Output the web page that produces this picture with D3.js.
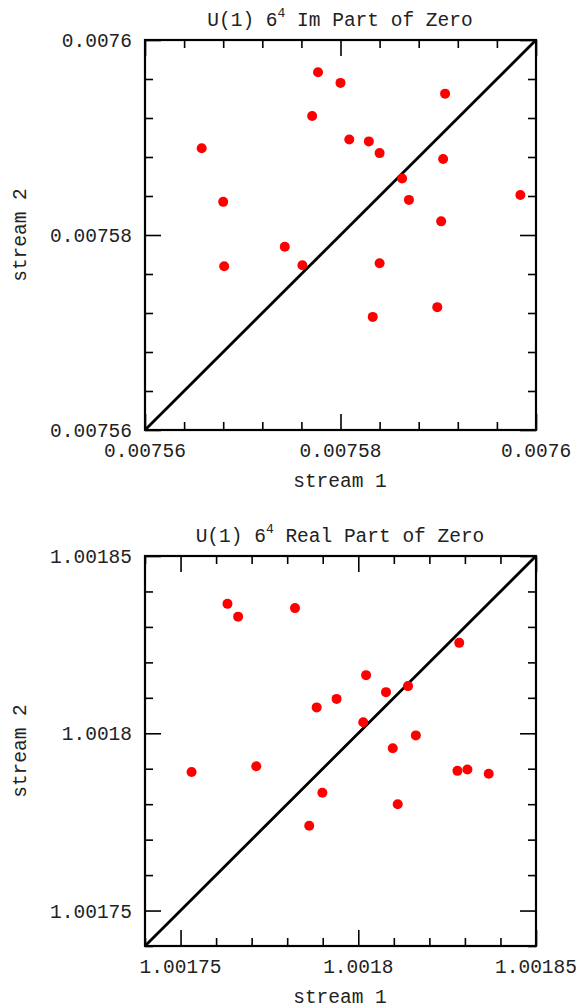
<!DOCTYPE html>
<html>
<head>
<meta charset="utf-8">
<script src="https://cdn.jsdelivr.net/npm/d3@7"></script>
<style>
  html, body { margin: 0; padding: 0; background: #fff; }
  svg { display: block; }
  text { font-family: "Liberation Mono", "DejaVu Sans Mono", monospace; fill: #222; }
</style>
</head>
<body>
<svg id="chart" width="587" height="1008"></svg>
<script>
// ---------- Data: U(1) 6^4 Im Part of Zero ----------
const imStream1 = [0.0075658, 0.0075680, 0.0075777, 0.0075800, 0.0075907, 0.0075771, 0.0075809,
  0.0075829, 0.0075840, 0.0075905, 0.0075863, 0.0075870, 0.0075984, 0.0075903, 0.0075681,
  0.0075743, 0.0075761, 0.0075840, 0.0075833, 0.0075899];
const imStream2 = [0.0075889, 0.0075834, 0.0075967, 0.0075956, 0.0075945, 0.0075922, 0.0075898,
  0.0075896, 0.0075884, 0.0075878, 0.0075858, 0.0075836, 0.0075841, 0.0075814, 0.0075768,
  0.0075788, 0.0075769, 0.0075771, 0.0075716, 0.0075726];
const imDomain = [0.00756, 0.0076];
const imMajorTicks = [0.00756, 0.00758, 0.0076];
const imTickLabels = ["0.00756", "0.00758", "0.0076"];
const imMinorTicks = [0.000004, 0.000008, 0.000012, 0.000016, 0.000024, 0.000028, 0.000032, 0.000036]
  .map(d => 0.00756 + d);

// ---------- Data: U(1) 6^4 Real Part of Zero ----------
const reStream1 = [1.0017632, 1.0017662, 1.0017822, 1.0018284, 1.0018022, 1.0018140, 1.0018078,
  1.0017939, 1.0017883, 1.0018014, 1.0018162, 1.0018097, 1.0017531, 1.0017713, 1.0018279,
  1.0018307, 1.0018367, 1.0017899, 1.0018111, 1.0017862];
const reStream2 = [1.0018365, 1.0018329, 1.0018353, 1.0018255, 1.0018164, 1.0018133, 1.0018116,
  1.0018097, 1.0018073, 1.0018031, 1.0017994, 1.0017958, 1.0017891, 1.0017907, 1.0017894,
  1.0017898, 1.0017886, 1.0017832, 1.0017800, 1.0017739];
const reDomain = [1.00174, 1.00185];
const reMajorTicks = [1.00175, 1.0018, 1.00185];
const reTickLabels = ["1.00175", "1.0018", "1.00185"];
const reMinorTicks = [1.00174, 1.00176, 1.00177, 1.00178, 1.00179, 1.00181, 1.00182, 1.00183, 1.00184];

const panels = [
  { title: "Im Part of Zero", s1: imStream1, s2: imStream2, domain: imDomain,
    major: imMajorTicks, labels: imTickLabels, minor: imMinorTicks, top: 40 },
  { title: "Real Part of Zero", s1: reStream1, s2: reStream2, domain: reDomain,
    major: reMajorTicks, labels: reTickLabels, minor: reMinorTicks, top: 556 }
];

const svg = d3.select("#chart");
const left = 145, size = 390;
const minorLen = 8, majorLen = 16;

panels.forEach(p => {
  const g = svg.append("g").attr("transform", `translate(${left},${p.top})`);
  const x = d3.scaleLinear().domain(p.domain).range([0, size + 1]);
  const y = d3.scaleLinear().domain(p.domain).range([size, 0]);

  const tickStyle = sel => {
    sel.select(".domain").remove();
    sel.selectAll(".tick line").attr("stroke", "#000").attr("stroke-width", 1.6);
  };
  const edge = (axisFn, scale, vals, len, tx, ty) => {
    g.append("g").attr("transform", `translate(${tx},${ty})`)
      .call(axisFn(scale).tickValues(vals).tickSize(len).tickFormat(""))
      .call(tickStyle);
  };
  // bottom & top edges (ticks inward)
  edge(d3.axisTop, x, p.minor, minorLen, 0, size);
  edge(d3.axisTop, x, p.major, majorLen, 0, size);
  edge(d3.axisBottom, x, p.minor, minorLen, 0, 0);
  edge(d3.axisBottom, x, p.major, majorLen, 0, 0);
  // left & right edges
  edge(d3.axisRight, y, p.minor, minorLen, 0, 0);
  edge(d3.axisRight, y, p.major, majorLen, 0, 0);
  edge(d3.axisLeft, y, p.minor, minorLen, size + 1, 0);
  edge(d3.axisLeft, y, p.major, majorLen, size + 1, 0);

  // diagonal y = x
  g.append("line")
    .attr("x1", x(p.domain[0])).attr("y1", y(p.domain[0]))
    .attr("x2", x(p.domain[1])).attr("y2", y(p.domain[1]))
    .attr("stroke", "#000").attr("stroke-width", 2.8);

  // frame
  g.append("rect").attr("x", 0).attr("y", 0).attr("width", size + 1).attr("height", size)
    .attr("fill", "none").attr("stroke", "#000").attr("stroke-width", 2.2);

  // points
  g.selectAll("circle.pt").data(p.s1.map((v, i) => [v, p.s2[i]]))
    .join("circle").attr("class", "pt")
    .attr("cx", d => x(d[0])).attr("cy", d => y(d[1])).attr("r", 5)
    .attr("fill", "#ff0000");

  // tick labels
  g.selectAll("text.xl").data(p.major).join("text").attr("class", "xl")
    .attr("x", d => x(d)).attr("y", size + 22)
    .attr("text-anchor", "middle").attr("dominant-baseline", "central")
    .attr("font-size", 19.5).text((d, i) => p.labels[i]);
  g.selectAll("text.yl").data(p.major).join("text").attr("class", "yl")
    .attr("x", -13).attr("y", d => y(d) + 2)
    .attr("text-anchor", "end").attr("dominant-baseline", "central")
    .attr("font-size", 19.5).text((d, i) => p.labels[i]);

  // axis titles
  g.append("text").attr("x", size / 2).attr("y", size + 52)
    .attr("text-anchor", "middle").attr("dominant-baseline", "central")
    .attr("font-size", 19.5).text("stream 1");
  g.append("text").attr("transform", `translate(${21 - left},${size / 2}) rotate(-90)`)
    .attr("text-anchor", "middle").attr("dominant-baseline", "central")
    .attr("font-size", 19.5).text("stream 2");

  // title with superscript
  const t = g.append("text").attr("x", size / 2).attr("y", -14)
    .attr("text-anchor", "middle").attr("font-size", 19.5);
  t.append("tspan").text("U(1) 6");
  t.append("tspan").attr("font-size", 13).attr("dy", -9).text("4");
  t.append("tspan").attr("dy", 9).text(" " + p.title);
});
</script>
</body>
</html>
